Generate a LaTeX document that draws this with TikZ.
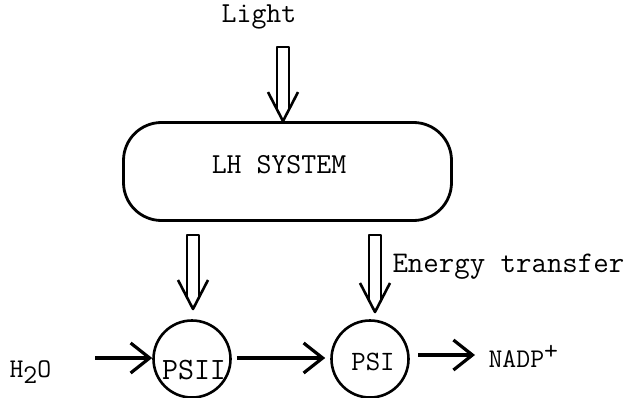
\documentclass[tikz,border=0pt]{standalone}
\usetikzlibrary{arrows.meta,positioning,calc}
\tikzset{>={Straight Barb[length=19pt,width=30pt,line width=3.2pt]},
 every node/.style={font=\ttfamily\fontsize{29}{34}\selectfont},
 lhbox/.style={draw,line width=2.8pt,rounded corners=38pt,minimum width=328pt,
 minimum height=98pt},
 psnode/.style={circle,draw,line width=2.6pt,minimum size=77pt,inner sep=0pt},
 chem/.style={font=\ttfamily\fontsize{27}{32}\selectfont},
 hollow/.style={line width=2.6pt,line join=round},
 flow/.style={line width=4pt,->}}
% hollow "energy" arrow from a start point down to a tip
\newcommand\hollowarrow[2]{%
 \draw[hollow] ($(#2)+(-6,-12)$) -- ($(#1)+(-6,0)$) -- ($(#1)+(6,0)$) -- ($(#2)+(6,-12)$);
 \draw[hollow] ($(#2)+(-15,-29)$) -- (#2) -- ($(#2)+(15,-29)$);}
\newcommand\chemsub[1]{\raisebox{-6pt}{#1}}
\newcommand\chemsup[1]{\raisebox{8pt}{#1}}

\begin{document}
\begin{tikzpicture}[x=1pt,y=-1pt]
\useasboundingbox (0,0) rectangle (628,398);
\node (light) at (259,17) {Light};
\node[lhbox] (lh) at (287.5,171.5) {};
\node (lhtext) at (279,165) {LH SYSTEM};
\node[psnode] (ps2) at (192,359) {};
\node[psnode] (ps1) at (370,359) {};
\node[font=\ttfamily\fontsize{31}{36}\selectfont] (ps2text) at (194,370) {PSII};
\node[font=\ttfamily\fontsize{28}{33}\selectfont] (ps1text) at (373,362) {PSI};
\node[chem,anchor=west] (water) at (6,372) {H\chemsub{2}O};
\node[chem,anchor=west] (nadp) at (485,356) {NADP\chemsup{+}};
\node[anchor=west,font=\ttfamily\fontsize{30}{35}\selectfont] (energy) at (389,267)
 {Energy transfer};
% arrow ends
\coordinate (lightstart) at (283,47);
\coordinate (lighttip) at (lightstart |- lh.north);
\coordinate (es2) at (193,235);
\coordinate (et2) at (193,309);
\coordinate (es1) at (375,235);
\coordinate (et1) at (375,312);
\hollowarrow{lightstart}{lighttip}
\hollowarrow{es2}{et2}
\hollowarrow{es1}{et1}
\coordinate (wstart) at (95,358);
\draw[flow] (wstart) -- (ps2.west |- wstart);
\draw[flow] ([xshift=5pt]ps2.east |- wstart) -- ([xshift=-5pt]ps1.west |- wstart);
\coordinate (nstart) at (418,355);
\draw[flow] (nstart) -- (475,355);
\end{tikzpicture}
\end{document}
